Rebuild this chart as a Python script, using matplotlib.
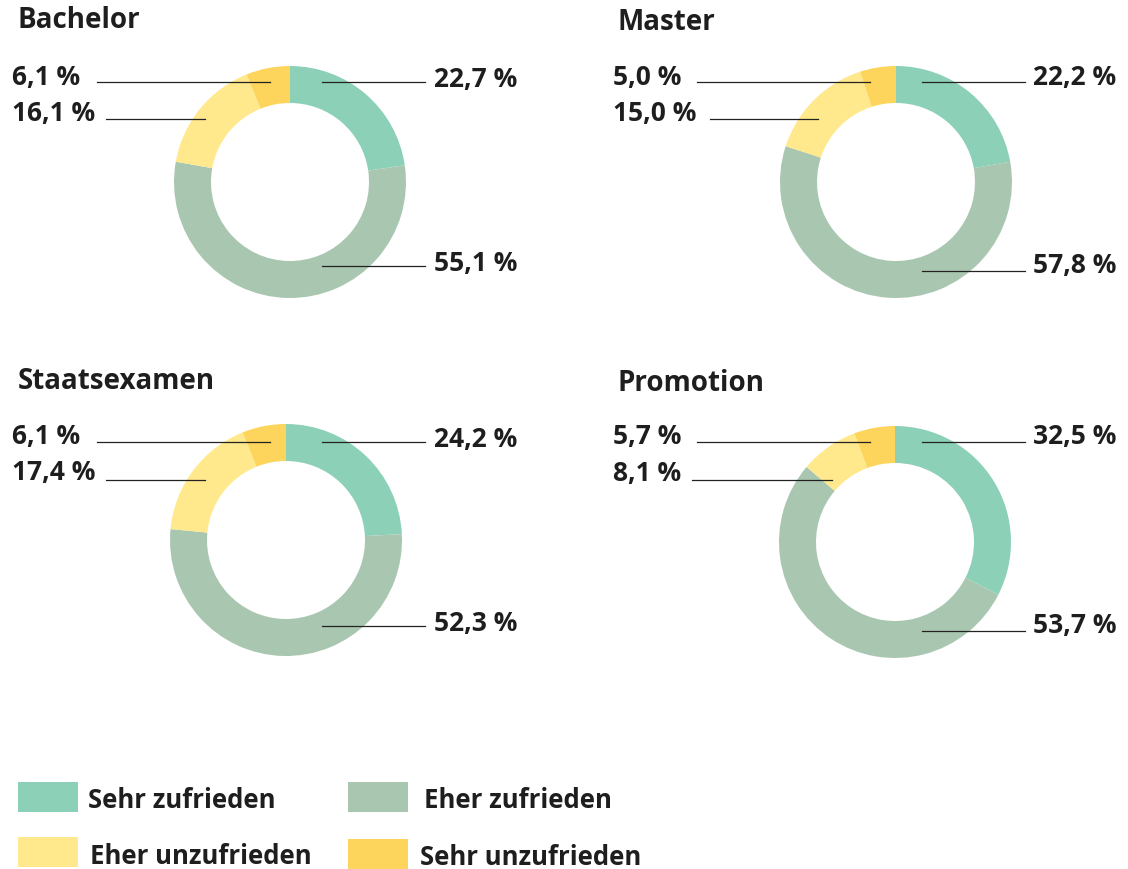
import matplotlib.pyplot as plt
from matplotlib.patches import Rectangle

plt.rcParams['font.family'] = ['Open Sans', 'DejaVu Sans']

categories = ["Sehr zufrieden", "Eher zufrieden", "Eher unzufrieden", "Sehr unzufrieden"]
colors = ["#8cd0b8", "#a9c7b0", "#ffe98c", "#fdd55c"]

panels = ["Bachelor", "Master", "Staatsexamen", "Promotion"]
bachelor = [22.7, 55.1, 16.1, 6.1]
master = [22.2, 57.8, 15.0, 5.0]
staatsexamen = [24.2, 52.3, 17.4, 6.1]
promotion = [32.5, 53.7, 8.1, 5.7]
values = [bachelor, master, staatsexamen, promotion]

W, H = 1128, 870
TXT = 2  # small downward nudge for text (pixels)

# layout in pixels (top-left origin)
layout = [
    dict(c=(290, 183), title=(18, 18), tl=12, lab_y=[77, 262, 112, 75], line_y=[83, 267, 120, 83],
         left_lines=[(106, 205), (97, 270)], right_x=434, right_line=(322, 425)),
    dict(c=(896, 183), title=(617, 20), tl=613, lab_y=[75, 263, 112, 75], line_y=[83, 272, 120, 83],
         left_lines=[(710, 818), (697, 870)], right_x=1033, right_line=(922, 1025)),
    dict(c=(286, 541), title=(18, 380), tl=12, lab_y=[438, 622, 471, 435], line_y=[443, 627, 481, 443],
         left_lines=[(106, 205), (97, 270)], right_x=434, right_line=(322, 425)),
    dict(c=(895, 543), title=(617, 382), tl=613, lab_y=[435, 624, 472, 435], line_y=[443, 632, 481, 443],
         left_lines=[(692, 832), (697, 870)], right_x=1033, right_line=(922, 1025)),
]

fig = plt.figure(figsize=(W / 100, H / 100), dpi=100)
ax = fig.add_axes([0, 0, 1, 1])


def fy(y):
    return H - y


def fmt(v):
    return f"{v:.1f}".replace(".", ",") + " %"


for name, vals, lay in zip(panels, values, layout):
    cx, cy = lay["c"]
    ax.pie(vals, colors=colors, startangle=90, counterclock=False,
           center=(cx, fy(cy)), radius=116,
           wedgeprops=dict(width=37, linewidth=0))
    ax.text(lay["title"][0], fy(lay["title"][1] + TXT), name, fontsize=20, fontweight="bold",
            color="#1e1e1e", ha="left", va="center")
    # right side labels (first two categories)
    for i in range(2):
        ax.text(lay["right_x"], fy(lay["lab_y"][i] + TXT), fmt(vals[i]), fontsize=19,
                fontweight="bold", color="#1e1e1e", ha="left", va="center")
        x0, x1 = lay["right_line"]
        ax.plot([x0, x1], [fy(lay["line_y"][i])] * 2, color="#222222", lw=0.9)
    # left side labels (last two categories)
    for j, i in enumerate([2, 3]):
        ax.text(lay["tl"], fy(lay["lab_y"][i] + TXT), fmt(vals[i]), fontsize=19,
                fontweight="bold", color="#1e1e1e", ha="left", va="center")
        x0, x1 = lay["left_lines"][j]
        ax.plot([x0, x1], [fy(lay["line_y"][i])] * 2, color="#222222", lw=0.9)

# legend
legend_pos = [(18, 783, 88, 798), (348, 783, 424, 798), (18, 838, 90, 854), (348, 840, 420, 855)]
for cat, col, (px, py, tx, ty) in zip(categories, colors, legend_pos):
    ax.add_patch(Rectangle((px, fy(py + 30)), 60, 30, facecolor=col, edgecolor="none"))
    ax.text(tx, fy(ty + 3), cat, fontsize=18.5, fontweight="bold", color="#1e1e1e",
            ha="left", va="center")

ax.set_xlim(0, W)
ax.set_ylim(0, H)
ax.set_aspect("auto")
ax.axis("off")

plt.savefig("out.png", dpi=100)
